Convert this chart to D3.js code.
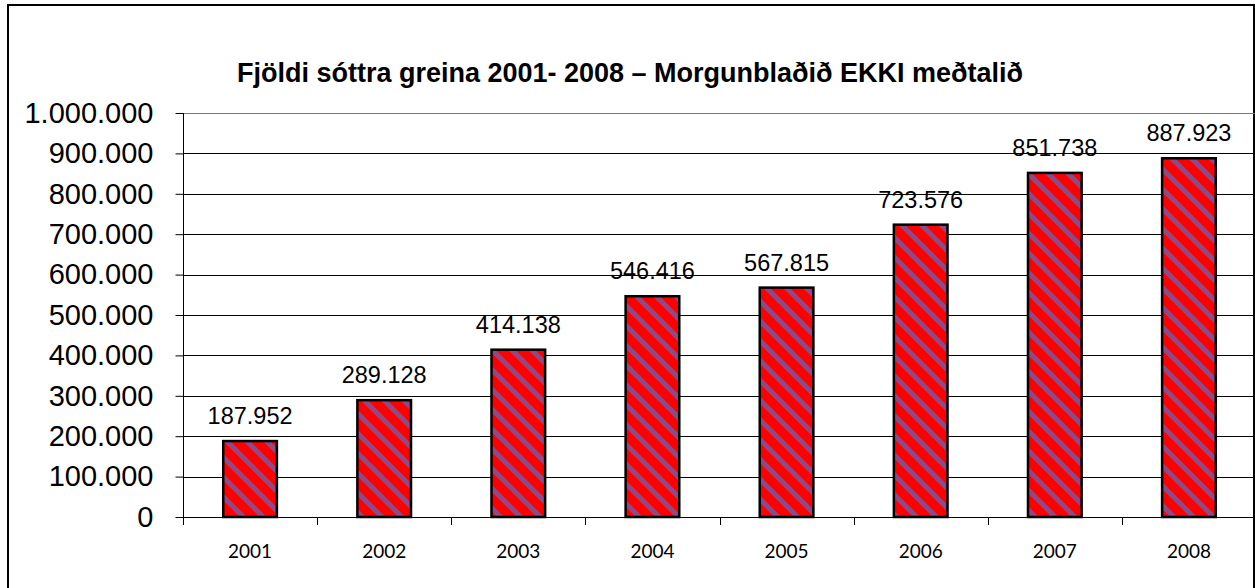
<!DOCTYPE html>
<html>
<head>
<meta charset="utf-8">
<script src="https://cdn.jsdelivr.net/npm/d3@7"></script>
<style>
  body { margin: 0; background: #fff; }
  svg { display: block; }
</style>
</head>
<body>
<div id="chart"></div>
<script>
// chart data
const years = ["2001", "2002", "2003", "2004", "2005", "2006", "2007", "2008"];
const articles = [187952, 289128, 414138, 546416, 567815, 723576, 851738, 887923];
const yTicks = [0, 100000, 200000, 300000, 400000, 500000, 600000, 700000, 800000, 900000, 1000000];
const chartTitle = "Fjöldi sóttra greina 2001- 2008 – Morgunblaðið EKKI meðtalið";

const W = 1255, H = 588;
const plot = { left: 183, right: 1256, top: 113, bottom: 517 };

// icelandic style number: 1.000.000
const fmt = v => d3.format(",")(v).replace(/,/g, ".");

const svg = d3.select("#chart").append("svg")
  .attr("width", W)
  .attr("height", H);

// striped fill for the bars
const defs = svg.append("defs");
const pat = defs.append("pattern")
  .attr("id", "stripes")
  .attr("patternUnits", "userSpaceOnUse")
  .attr("width", 14)
  .attr("height", 14)
  .attr("patternTransform", "rotate(-45)");
pat.append("rect").attr("width", 14).attr("height", 14).attr("fill", "#ff0000");
pat.append("rect").attr("width", 5).attr("height", 14).attr("fill", "#8e4a86");

// outer frame (bottom edge falls outside the picture)
svg.append("path")
  .attr("d", `M8,${H}V5H1254V${H}`)
  .attr("fill", "none")
  .attr("stroke", "#000")
  .attr("stroke-width", 2);

const x = d3.scaleBand()
  .domain(years)
  .range([plot.left, plot.right])
  .paddingInner(0.6)
  .paddingOuter(0.3);

const y = d3.scaleLinear()
  .domain([0, 1000000])
  .range([plot.bottom, plot.top]);

// gridlines
svg.append("g")
  .selectAll("line")
  .data(yTicks)
  .join("line")
  .attr("x1", plot.left)
  .attr("x2", W)
  .attr("y1", d => Math.round(y(d)) + 0.5)
  .attr("y2", d => Math.round(y(d)) + 0.5)
  .attr("stroke", d => d === 1000000 ? "#777" : "#000")
  .attr("stroke-width", 1);

// y axis
const yAxis = svg.append("g")
  .attr("transform", `translate(${plot.left + 0.5},0)`)
  .call(d3.axisLeft(y).tickValues(yTicks).tickFormat(fmt).tickSize(8).tickPadding(22));
yAxis.select(".domain").attr("d", `M0,${plot.top}V${plot.bottom + 8}`).attr("stroke", "#000");
yAxis.selectAll(".tick line").attr("stroke", "#000");
yAxis.selectAll("text")
  .attr("font-family", "Liberation Sans, Arial, sans-serif")
  .attr("font-size", 29)
  .attr("fill", "#000");

// x axis: ticks at category boundaries
const step = x.step();
const bounds = d3.range(years.length + 1).map(i => plot.left + i * step);
svg.append("g")
  .selectAll("line")
  .data(bounds)
  .join("line")
  .attr("x1", d => Math.round(d) + 0.5)
  .attr("x2", d => Math.round(d) + 0.5)
  .attr("y1", plot.bottom)
  .attr("y2", plot.bottom + 8)
  .attr("stroke", "#000");

svg.append("g")
  .selectAll("text")
  .data(years)
  .join("text")
  .attr("x", d => x(d) + x.bandwidth() / 2)
  .attr("y", 558)
  .attr("text-anchor", "middle")
  .attr("font-family", "Lato, 'Open Sans', sans-serif")
  .attr("font-size", 19)
  .attr("fill", "#000")
  .text(d => d);

// bars
svg.append("g")
  .selectAll("rect")
  .data(years)
  .join("rect")
  .attr("x", d => x(d))
  .attr("y", (d, i) => y(articles[i]))
  .attr("width", x.bandwidth())
  .attr("height", (d, i) => y(0) - y(articles[i]))
  .attr("fill", "url(#stripes)")
  .attr("stroke", "#000")
  .attr("stroke-width", 2.5);

// value labels
svg.append("g")
  .selectAll("text")
  .data(years)
  .join("text")
  .attr("x", d => x(d) + x.bandwidth() / 2)
  .attr("y", (d, i) => y(articles[i]) - 17)
  .attr("text-anchor", "middle")
  .attr("font-family", "Liberation Sans, Arial, sans-serif")
  .attr("font-size", 23.5)
  .attr("fill", "#000")
  .text((d, i) => fmt(articles[i]));

// title
svg.append("text")
  .attr("x", 630)
  .attr("y", 82)
  .attr("text-anchor", "middle")
  .attr("font-family", "Liberation Sans, Arial, sans-serif")
  .attr("font-weight", "bold")
  .attr("font-size", 27)
  .attr("fill", "#000")
  .text(chartTitle);
</script>
</body>
</html>
